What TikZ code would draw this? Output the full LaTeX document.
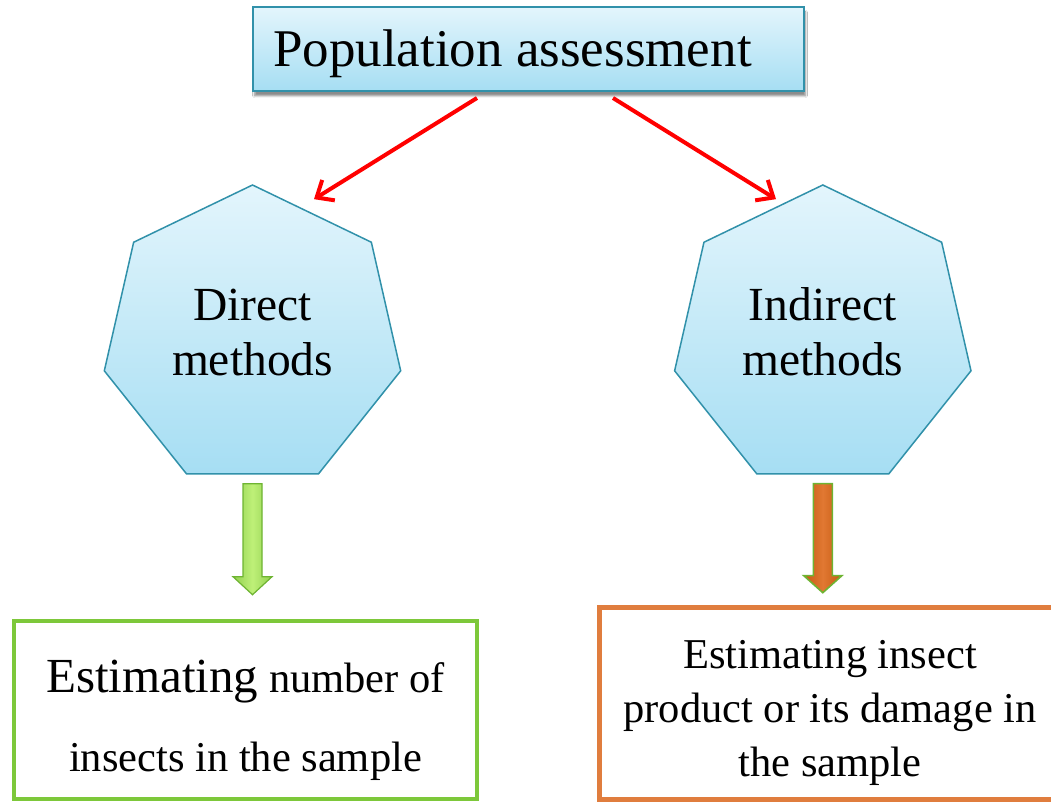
\documentclass[tikz,border=0pt]{standalone}
\usepackage{fontspec}
\setmainfont{Liberation Serif}
\usetikzlibrary{shapes.geometric,arrows.meta,shadows.blur}
\definecolor{boxtop}{RGB}{227,245,252}
\definecolor{boxbot}{RGB}{166,222,243}
\definecolor{tealedge}{RGB}{49,145,170}
\definecolor{arrowred}{RGB}{255,0,0}
\definecolor{limefill}{RGB}{146,208,80}
\definecolor{limelight}{RGB}{190,240,120}
\definecolor{limeedge}{RGB}{110,180,50}
\definecolor{rustfill}{RGB}{197,90,17}
\definecolor{rustlight}{RGB}{225,120,50}
\definecolor{greenframe}{RGB}{125,200,58}
\definecolor{orangeframe}{RGB}{224,125,62}
\begin{document}
\begin{tikzpicture}[x=1pt,y=1pt,
  titlebox/.style={draw=tealedge, line width=2pt, top color=boxtop, bottom color=boxbot,
    minimum width=551pt, minimum height=84pt, inner sep=0pt,
    blur shadow={shadow xshift=2pt, shadow yshift=-5pt, shadow blur steps=6, shadow opacity=45}},
  titletext/.style={anchor=base, inner sep=0pt, font=\fontsize{53}{60}\selectfont},
  hepta/.style={regular polygon, regular polygon sides=7, minimum size=304pt, inner sep=0pt,
    draw=tealedge, line width=1.5pt, top color=boxtop, bottom color=boxbot,
    align=center, text depth=10pt, font=\fontsize{47.5}{55}\selectfont},
  redarrow/.style={draw=arrowred, line width=4pt,
    -{Straight Barb[length=14pt,width=24pt,line width=4pt]}},
  greenarrow/.style={draw=limeedge, line width=1.2pt, line join=miter,
    left color=limefill, right color=limefill, middle color=limelight},
  rustarrow/.style={draw=limeedge, line width=1.6pt, line join=miter,
    left color=rustfill, right color=rustfill, middle color=rustlight},
  greenbox/.style={draw=greenframe, line width=4.5pt, fill=white, inner sep=0pt,
    minimum width=463pt, minimum height=178pt},
  orangebox/.style={draw=orangeframe, line width=4.5pt, fill=white, inner sep=0pt,
    minimum width=461.5pt, minimum height=192pt},
  boxtext/.style={anchor=base, inner sep=0pt, align=center, font=\fontsize{42.5}{54}\selectfont}
]
\useasboundingbox (0,0) rectangle (1051,802);
\fill[white] (0,0) rectangle (1051,802);
\clip (0,0) rectangle (1051,802);

% title
\node[titlebox] (top) at (528,753) {};
\node[titletext] (toptext) at (512.5,735) {Population assessment};

% heptagons
\node[hepta] (dm) at (252.5,465) {Direct\\methods};
\node[hepta] (im) at (822.8,465) {Indirect\\methods};

% red connectors
\draw[redarrow] ([xshift=-51pt,yshift=-6pt]top.south) -- ([xshift=61.5pt,yshift=-15pt]dm.corner 1);
\draw[redarrow] ([xshift=85pt,yshift=-6pt]top.south) -- ([xshift=-46.8pt,yshift=-15pt]im.corner 1);

% bottom boxes
\node[greenbox] (db) at (245.5,92) {};
\node[boxtext] (dbt) at (245.5,30) {{\fontsize{49}{55}\selectfont Estimating} number of\\[25pt]insects in the sample};
\node[orangebox] (ib) at (830.25,98.5) {};
\node[boxtext] (ibt) at (830,25) {Estimating insect\\product or its damage in\\the sample};

% block arrows
\coordinate (ga) at ([yshift=-9pt]dm.south);
\coordinate (ra) at ([yshift=-9pt]im.south);
\draw[greenarrow] ([xshift=-9.5pt]ga) -- ++(0,-93) -- ++(-10,0) -- ++(19.5,-18) -- ++(19.5,18) -- ++(-10,0) -- ++(0,93) -- cycle;
\draw[rustarrow] ([xshift=-9.5pt]ra) -- ++(0,-92) -- ++(-9.5,0) -- ++(19,-17) -- ++(19,17) -- ++(-9.5,0) -- ++(0,92) -- cycle;
\end{tikzpicture}
\end{document}
